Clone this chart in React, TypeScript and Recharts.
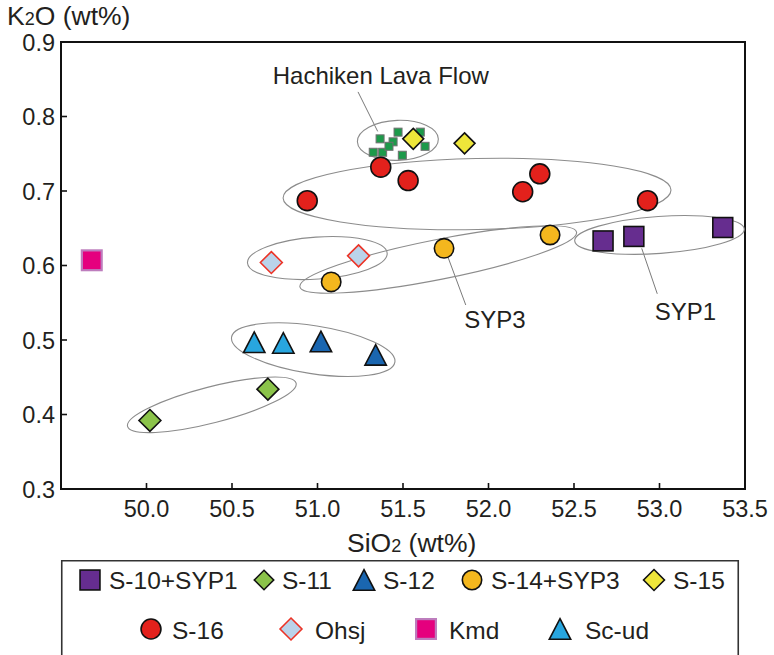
import React from 'react';
import {
  ScatterChart,
  Scatter,
  XAxis,
  YAxis,
  ReferenceDot,
  ReferenceLine,
  ReferenceArea,
  Legend,
  Label,
} from 'recharts';

const FONT = '"Liberation Sans", Arial, Helvetica, sans-serif';
const INK = '#231f20';

// ---- axis ticks ----
const xTicks = [50.0, 50.5, 51.0, 51.5, 52.0, 52.5, 53.0, 53.5];
const yTicks = [0.3, 0.4, 0.5, 0.6, 0.7, 0.8, 0.9];

// ---- series (SiO2 wt%, K2O wt%) ----
const s10Syp1 = [
  { x: 52.67, y: 0.633 },
  { x: 52.85, y: 0.639 },
  { x: 53.37, y: 0.651 },
];
const s11 = [
  { x: 50.02, y: 0.392 },
  { x: 50.71, y: 0.434 },
];
const s12 = [
  { x: 51.02, y: 0.498 },
  { x: 51.34, y: 0.48 },
];
const s14Syp3 = [
  { x: 51.08, y: 0.578 },
  { x: 51.74, y: 0.623 },
  { x: 52.36, y: 0.641 },
];
const s15 = [
  { x: 51.56, y: 0.77 },
  { x: 51.86, y: 0.764 },
];
const s16 = [
  { x: 50.94, y: 0.687 },
  { x: 51.37, y: 0.732 },
  { x: 51.53, y: 0.714 },
  { x: 52.2, y: 0.699 },
  { x: 52.3, y: 0.723 },
  { x: 52.93, y: 0.687 },
];
const ohsj = [
  { x: 50.73, y: 0.604 },
  { x: 51.24, y: 0.613 },
];
const kmd = [{ x: 49.68, y: 0.607 }];
const scud = [
  { x: 50.63, y: 0.497 },
  { x: 50.8, y: 0.496 },
];
const hachiken = [
  { x: 51.366, y: 0.77 },
  { x: 51.471, y: 0.779 },
  { x: 51.442, y: 0.766 },
  { x: 51.601, y: 0.779 },
  { x: 51.629, y: 0.76 },
  { x: 51.326, y: 0.752 },
  { x: 51.381, y: 0.752 },
  { x: 51.496, y: 0.748 },
  { x: 51.418, y: 0.76 },
];

// ---- annotations (group ellipses: centre in data units) ----
const ellipseCentres = [
  { x: 51.47, y: 0.768 },
  { x: 51.933, y: 0.696 },
  { x: 53.0, y: 0.641 },
  { x: 51.706, y: 0.608 },
  { x: 50.999, y: 0.61 },
  { x: 50.975, y: 0.487 },
  { x: 50.382, y: 0.413 },
];
const ellipseGeom = [
  { rx: 40.5, ry: 20, angle: -2 },
  { rx: 194, ry: 35.5, angle: -1.2 },
  { rx: 85, ry: 18.5, angle: -4 },
  { rx: 141, ry: 20, angle: -11.2 },
  { rx: 70, ry: 21, angle: -4 },
  { rx: 82.6, ry: 24, angle: 8.7 },
  { rx: 87, ry: 18, angle: -14.4 },
];
const leaderLines = [
  [{ x: 51.237, y: 0.833 }, { x: 51.352, y: 0.78 }],
  [{ x: 51.765, y: 0.61 }, { x: 51.867, y: 0.547 }],
  [{ x: 52.896, y: 0.623 }, { x: 52.987, y: 0.562 }],
];
const noteLabels = [
  { x: 51.37, y: 0.8433, text: 'Hachiken Lava Flow' },
  { x: 52.038, y: 0.516, text: 'SYP3' },
  { x: 53.152, y: 0.527, text: 'SYP1' },
];

// ---- marker styles ----
type MStyle = { kind: string; size: number; fill: string; stroke: string; sw: number };
const STY: Record<string, MStyle> = {
  s10: { kind: 'square', size: 21.5, fill: '#662d8f', stroke: '#111', sw: 1.6 },
  s11: { kind: 'diamond', size: 23.5, fill: '#8bc34a', stroke: '#111', sw: 1.6 },
  s12: { kind: 'triangle', size: 23, fill: '#1a66b0', stroke: '#111', sw: 1.6 },
  s14: { kind: 'circle', size: 21, fill: '#f4b71e', stroke: '#111', sw: 1.6 },
  s15: { kind: 'diamond', size: 22.5, fill: '#eee63a', stroke: '#111', sw: 1.6 },
  s16: { kind: 'circle', size: 21.5, fill: '#e3211c', stroke: '#111', sw: 1.6 },
  ohsj: { kind: 'diamond', size: 23.5, fill: '#bad3ea', stroke: '#ec3326', sw: 1.6 },
  kmd: { kind: 'square', size: 22, fill: '#e5007e', stroke: '#bd7dbd', sw: 2.2 },
  scud: { kind: 'triangle', size: 23, fill: '#28a6df', stroke: '#111', sw: 1.6 },
  hach: { kind: 'square', size: 9, fill: '#1d9a4a', stroke: '#707070', sw: 1 },
};

function Marker({ st, cx, cy }: { st: MStyle; cx: number; cy: number }) {
  const s = st.size - st.sw;
  const common = { fill: st.fill, stroke: st.stroke, strokeWidth: st.sw };
  if (st.kind === 'square')
    return <rect x={cx - s / 2} y={cy - s / 2} width={s} height={s} {...common} />;
  if (st.kind === 'circle') return <circle cx={cx} cy={cy} r={s / 2} {...common} />;
  if (st.kind === 'diamond') {
    const d = s / 2;
    return (
      <polygon
        points={`${cx},${cy - d} ${cx + d},${cy} ${cx},${cy + d} ${cx - d},${cy}`}
        {...common}
        strokeLinejoin="miter"
      />
    );
  }
  const w = s;
  const h = s * 0.96;
  return (
    <polygon
      points={`${cx},${cy - h / 2} ${cx + w / 2},${cy + h / 2} ${cx - w / 2},${cy + h / 2}`}
      {...common}
      strokeLinejoin="miter"
    />
  );
}

const shapeFor = (key: string) => (p: any) => <Marker st={STY[key]} cx={p.cx} cy={p.cy} />;

const seriesList = [
  { name: 'Hachiken Lava Flow', data: hachiken, key: 'hach' },
  { name: 'S-16', data: s16, key: 's16' },
  { name: 'S-14+SYP3', data: s14Syp3, key: 's14' },
  { name: 'S-10+SYP1', data: s10Syp1, key: 's10' },
  { name: 'S-11', data: s11, key: 's11' },
  { name: 'Sc-ud', data: scud, key: 'scud' },
  { name: 'S-12', data: s12, key: 's12' },
  { name: 'Ohsj', data: ohsj, key: 'ohsj' },
  { name: 'Kmd', data: kmd, key: 'kmd' },
  { name: 'S-15', data: s15, key: 's15' },
];

// legend rows: label, style key
const legendRow1 = [
  ['S-10+SYP1', 's10'],
  ['S-11', 's11'],
  ['S-12', 's12'],
  ['S-14+SYP3', 's14'],
  ['S-15', 's15'],
];
const legendRow2 = [
  ['S-16', 's16'],
  ['Ohsj', 'ohsj'],
  ['Kmd', 'kmd'],
  ['Sc-ud', 'scud'],
];
// legend layout (symbol centre x, label start x) relative to legend box
const legendRow1X = [
  [29, 48],
  [203, 221],
  [303, 322],
  [411, 430],
  [593, 612],
];
const legendRow2X = [
  [90, 111],
  [230, 254],
  [365, 388],
  [499, 524],
];

function LegendBox() {
  const W = 678;
  const H = 100;
  return (
    <svg width={W} height={H} style={{ display: 'block', overflow: 'visible' }}>
      <path d={`M0.75,${H} L0.75,0.75 L${W - 0.75},0.75 L${W - 0.75},${H}`} fill="none" stroke="#333" strokeWidth={1.6} />
      {legendRow1.map(([label, key], i) => (
        <g key={label}>
          <Marker st={{ ...STY[key], size: key === 's11' ? 21 : STY[key].size }} cx={legendRow1X[i][0]} cy={20} />
          <text x={legendRow1X[i][1]} y={29} fontFamily={FONT} fontSize={24.5} fill={INK}>
            {label}
          </text>
        </g>
      ))}
      {legendRow2.map(([label, key], i) => (
        <g key={label}>
          <Marker st={STY[key]} cx={legendRow2X[i][0]} cy={69} />
          <text x={legendRow2X[i][1]} y={78.5} fontFamily={FONT} fontSize={24.5} fill={INK}>
            {label}
          </text>
        </g>
      ))}
    </svg>
  );
}

const XTick = (p: any) => {
  const { x, y, payload } = p;
  return (
    <g>
      <line x1={x} x2={x} y1={y} y2={y - 6} stroke="#111" strokeWidth={1.6} />
      <text x={x} y={y + 27.5} textAnchor="middle" fontFamily={FONT} fontSize={23.5} fill={INK}>
        {Number(payload.value).toFixed(1)}
      </text>
    </g>
  );
};

const YTick = (p: any) => {
  const { x, y, payload } = p;
  return (
    <g>
      <line x1={x} x2={x + 6} y1={y} y2={y} stroke="#111" strokeWidth={1.6} />
      <text x={x - 6} y={y + 8.5} textAnchor="end" fontFamily={FONT} fontSize={23.5} fill={INK}>
        {Number(payload.value).toFixed(1)}
      </text>
    </g>
  );
};

const XTitle = (p: any) => {
  const vb = p.viewBox || { x: 61, y: 489 };
  return (
    <text x={vb.x + 286} y={vb.y + 63} fontFamily={FONT} fontSize={26.5} fill={INK}>
      SiO<tspan fontSize={18}>2</tspan> (wt%)
    </text>
  );
};

const YTitle = (p: any) => {
  const vb = p.viewBox || { x: 0, y: 42 };
  return (
    <text x={7} y={vb.y - 17} fontFamily={FONT} fontSize={26.5} fill={INK}>
      K<tspan fontSize={18}>2</tspan>O (wt%)
    </text>
  );
};

export default function App() {
  return (
    <div style={{ position: 'absolute', left: 0, top: 0, width: 774, height: 655, background: '#fff' }}>
      <ScatterChart width={774} height={655} margin={{ top: 42, right: 29, bottom: 0, left: 0 }}>
        <XAxis
          type="number"
          dataKey="x"
          domain={[49.5, 53.5]}
          ticks={xTicks}
          interval={0}
          allowDataOverflow
          height={166}
          axisLine={{ stroke: '#111', strokeWidth: 2 }}
          tickLine={false}
          tickSize={0}
          tickMargin={0}
          tick={XTick}
        >
          <Label content={XTitle} />
        </XAxis>
        <YAxis
          type="number"
          dataKey="y"
          domain={[0.3, 0.9]}
          ticks={yTicks}
          interval={0}
          allowDataOverflow
          width={61}
          axisLine={{ stroke: '#111', strokeWidth: 2 }}
          tickLine={false}
          tickSize={0}
          tickMargin={0}
          tick={YTick}
        >
          <Label content={YTitle} />
        </YAxis>
        <ReferenceArea x1={49.5} x2={53.5} y1={0.3} y2={0.9} fill="none" stroke="#111" strokeWidth={2} />
        {ellipseCentres.map((c, i) => (
          <ReferenceDot
            key={'e' + i}
            x={c.x}
            y={c.y}
            r={0}
            shape={(p: any) => (
              <ellipse
                cx={p.cx}
                cy={p.cy}
                rx={ellipseGeom[i].rx}
                ry={ellipseGeom[i].ry}
                transform={`rotate(${ellipseGeom[i].angle} ${p.cx} ${p.cy})`}
                fill="none"
                stroke="#8c8c8c"
                strokeWidth={1.1}
              />
            )}
          />
        ))}
        {leaderLines.map((seg, i) => (
          <ReferenceLine key={'l' + i} segment={seg} stroke="#7a7a7a" strokeWidth={1} />
        ))}
        {noteLabels.map((n, i) => (
          <ReferenceDot
            key={'n' + i}
            x={n.x}
            y={n.y}
            r={0}
            shape={(p: any) => (
              <text x={p.cx} y={p.cy} textAnchor="middle" fontFamily={FONT} fontSize={24} fill={INK}>
                {n.text}
              </text>
            )}
          />
        ))}
        {seriesList.map((s) => (
          <Scatter
            key={s.name}
            name={s.name}
            data={s.data}
            shape={shapeFor(s.key)}
            isAnimationActive={false}
            legendType="none"
          />
        ))}
        <Legend
          layout="horizontal"
          verticalAlign="middle"
          align="center"
          content={() => <LegendBox />}
          wrapperStyle={{ position: 'absolute', left: 61, top: 560, width: 678, height: 100 }}
        />
      </ScatterChart>
    </div>
  );
}
